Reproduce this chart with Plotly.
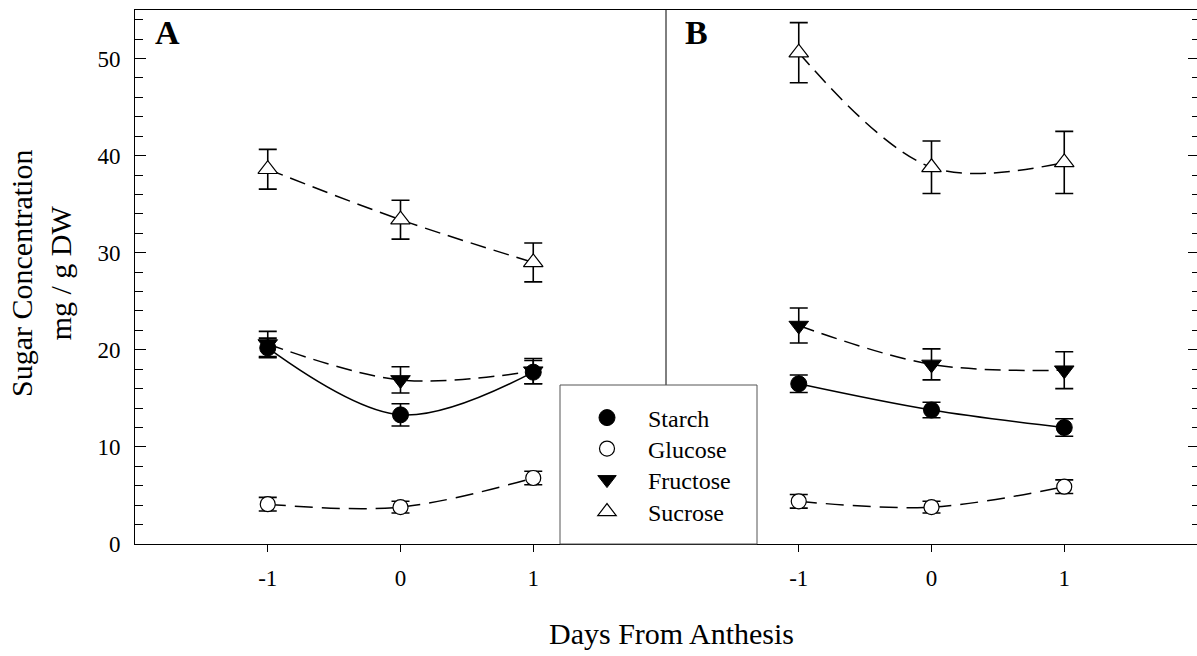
import plotly.graph_objects as go

days = [-1, 0, 1]
series_names = ["Starch", "Glucose", "Fructose", "Sucrose"]

# Panel A
A_starch = [20.2, 13.3, 17.7]
A_starch_err = [1.0, 1.15, 1.2]
A_glucose = [4.1, 3.8, 6.8]
A_glucose_err = [0.7, 0.6, 0.7]
A_fructose = [20.6, 16.9, 17.8]
A_fructose_err = [1.3, 1.35, 1.3]
A_sucrose = [38.6, 33.4, 29.0]
A_sucrose_err = [2.05, 2.0, 2.0]

# Panel B
B_starch = [16.5, 13.8, 12.0]
B_starch_err = [0.9, 0.8, 0.9]
B_glucose = [4.4, 3.8, 5.9]
B_glucose_err = [0.7, 0.6, 0.7]
B_fructose = [22.5, 18.5, 17.9]
B_fructose_err = [1.8, 1.6, 1.9]
B_sucrose = [50.6, 38.8, 39.3]
B_sucrose_err = [3.1, 2.7, 3.2]

x_ticks = [-1, 0, 1]
x_ticklabels = ["-1", "0", "1"]
y_ticks = [0, 10, 20, 30, 40, 50]

FONT = "Liberation Serif, Times New Roman, serif"

styles = {
    "Starch": dict(marker=dict(symbol="circle", size=16, color="black", line=dict(color="black", width=1)), dash="solid"),
    "Glucose": dict(marker=dict(symbol="circle", size=15, color="white", line=dict(color="black", width=1.2)), dash="18px,9px"),
    "Fructose": dict(marker=dict(symbol="triangle-down", size=17, color="black", line=dict(color="black", width=1)), dash="16px,8px"),
    "Sucrose": dict(marker=dict(symbol="triangle-up", size=17, color="white", line=dict(color="black", width=1.2)), dash="16px,8px"),
}

panelA = {"Starch": (A_starch, A_starch_err), "Glucose": (A_glucose, A_glucose_err),
          "Fructose": (A_fructose, A_fructose_err), "Sucrose": (A_sucrose, A_sucrose_err)}
panelB = {"Starch": (B_starch, B_starch_err), "Glucose": (B_glucose, B_glucose_err),
          "Fructose": (B_fructose, B_fructose_err), "Sucrose": (B_sucrose, B_sucrose_err)}

fig = go.Figure()

for panel, xa, ya in [(panelA, "x", "y"), (panelB, "x2", "y2")]:
    for name in ["Sucrose", "Fructose", "Starch", "Glucose"]:
        vals, errs = panel[name]
        st = styles[name]
        fig.add_trace(go.Scatter(
            x=days, y=vals, mode="lines+markers", name=name, showlegend=False,
            line=dict(color="black", width=1.5, dash=st["dash"], shape="spline", smoothing=1.0),
            marker=st["marker"],
            error_y=dict(type="data", array=errs, visible=True, color="black", thickness=1.6, width=9),
            xaxis=xa, yaxis=ya,
        ))

# one legend per entry so rows can be spaced like the reference
legend_ids = ["legend", "legend2", "legend3", "legend4"]
legend_rows_px = [418, 449, 480, 512]
for name, lid in zip(series_names, legend_ids):
    fig.add_trace(go.Scatter(x=[None], y=[None], mode="markers", name=name,
                             marker=styles[name]["marker"], showlegend=True, legend=lid))

legend_layouts = {}
for lid, ypx in zip(legend_ids, legend_rows_px):
    legend_layouts[lid] = dict(x=(566 - 135) / 1062, y=(544 - ypx) / 534, xanchor="left", yanchor="middle",
                               bgcolor="rgba(0,0,0,0)", borderwidth=0,
                               font=dict(family=FONT, size=24, color="black"), itemwidth=72)

xcommon = dict(range=[-2, 2], tickvals=x_ticks, ticktext=x_ticklabels, ticks="outside", ticklen=7,
               tickwidth=1, tickcolor="black", showline=True, linecolor="black", linewidth=1,
               mirror=True, showgrid=False, zeroline=False, ticklabelstandoff=6,
               tickfont=dict(family=FONT, size=23, color="black"))

fig.update_layout(
    width=1197, height=656,
    margin=dict(l=135, r=0, t=10, b=112),
    paper_bgcolor="white", plot_bgcolor="white",
    font=dict(family=FONT, color="black"),
    xaxis=dict(domain=[0, 0.5], anchor="y", **xcommon),
    xaxis2=dict(domain=[0.5, 1], anchor="y2", **xcommon),
    yaxis=dict(range=[0, 55], tickvals=y_ticks, ticks="inside", ticklen=11, tickwidth=1,
               tickcolor="black", showline=True, linecolor="black", linewidth=1,
               showgrid=False, zeroline=False, anchor="x", ticklabelstandoff=9,
               minor=dict(dtick=2, ticks="inside", ticklen=8, tickcolor="black", tickwidth=1, showgrid=False),
               tickfont=dict(family=FONT, size=23, color="black")),
    yaxis2=dict(range=[0, 55], matches="y", anchor="x2", side="right", tickvals=y_ticks,
                ticks="inside", ticklen=9, tickwidth=1, tickcolor="black", showline=False,
                showticklabels=False, showgrid=False, zeroline=False,
                minor=dict(dtick=2, ticks="inside", ticklen=5, tickcolor="black", tickwidth=1, showgrid=False)),
    showlegend=True,
    shapes=[
        dict(type="line", xref="paper", yref="paper", x0=0.5, x1=0.5, y0=0, y1=1,
             line=dict(color="black", width=1), layer="below"),
        dict(type="rect", xref="paper", yref="paper", x0=(560 - 135) / 1062, x1=(757 - 135) / 1062,
             y0=0, y1=(544 - 385) / 534, line=dict(color="#555555", width=1),
             fillcolor="white", layer="above"),
    ],
    annotations=[
        dict(text="<b>A</b>", xref="paper", yref="paper", x=(153 - 135) / 1062, y=(544 - 12) / 534,
             xanchor="left", yanchor="top", showarrow=False, font=dict(family=FONT, size=34, color="black")),
        dict(text="<b>B</b>", xref="paper", yref="paper", x=(683 - 135) / 1062, y=(544 - 12) / 534,
             xanchor="left", yanchor="top", showarrow=False, font=dict(family=FONT, size=34, color="black")),
        dict(text="Sugar Concentration<br>mg / g DW", xref="paper", yref="paper",
             x=(41 - 135) / 1062, y=(544 - 274) / 534, xanchor="center", yanchor="middle",
             textangle=-90, showarrow=False, font=dict(family=FONT, size=30, color="black")),
        dict(text="Days From Anthesis", xref="paper", yref="paper",
             x=(671 - 135) / 1062, y=(544 - 633) / 534, xanchor="center", yanchor="middle",
             showarrow=False, font=dict(family=FONT, size=30, color="black")),
    ],
    **legend_layouts,
)

fig.write_html("out.html")
